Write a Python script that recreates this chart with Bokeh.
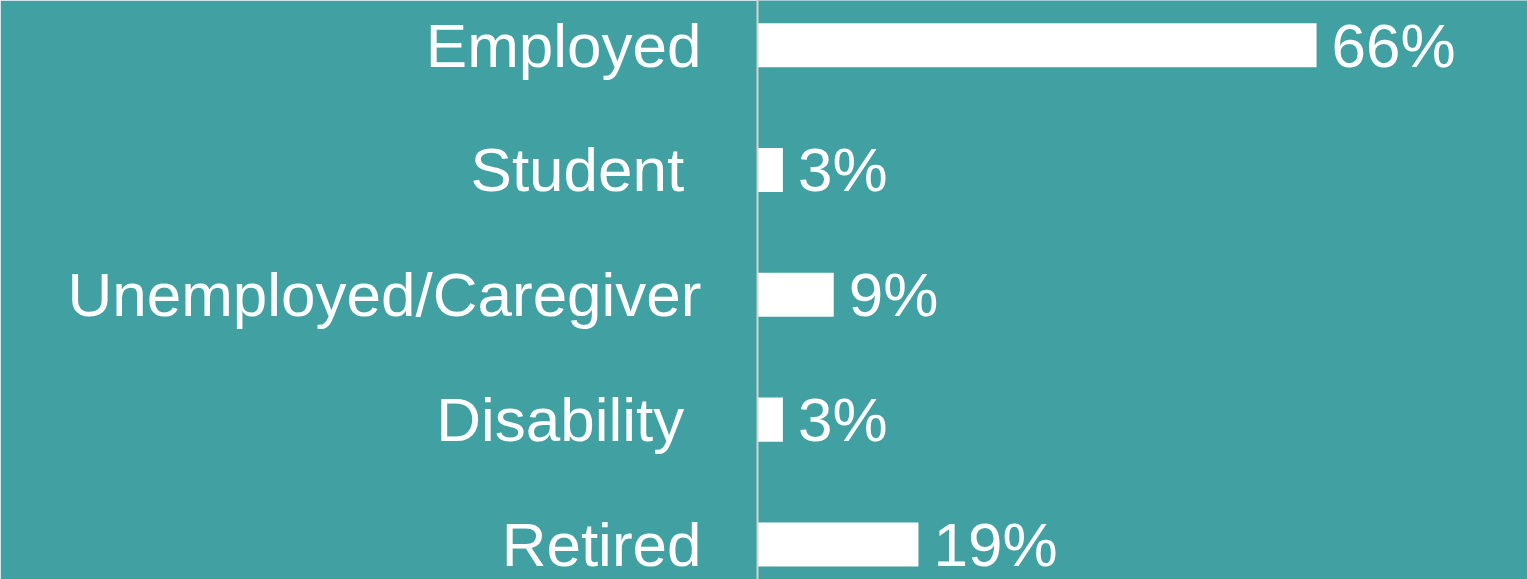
from bokeh.plotting import figure
from bokeh.models import Range1d, FixedTicker, ColumnDataSource
from bokeh.core.properties import value
from bokeh.embed import file_html
from bokeh.resources import INLINE

categories = ["Employed", "Student ", "Unemployed/Caregiver", "Disability ", "Retired"]
values = [66, 3, 9, 3, 19]
value_labels = ["66%", "3%", "9%", "3%", "19%"]

BG = "#41A0A1"
FONT = "Liberation Sans"

pos = list(range(len(categories)))
src = ColumnDataSource(dict(y=pos, v=values, lab=value_labels))

p = figure(width=1527, height=579, output_backend="svg", toolbar_location=None,
           x_range=Range1d(0, 90.9), y_range=Range1d(4.281, -0.358),
           min_border_left=757, min_border_right=0, min_border_top=0, min_border_bottom=0)
p.background_fill_color = BG
p.border_fill_color = BG
p.outline_line_color = None
p.grid.visible = False
p.xaxis.visible = False

p.hbar(y="y", left=0, right="v", height=0.353, source=src, fill_color="white", line_color=None)
p.text(x="v", y="y", text="lab", source=src, x_offset=15, text_align="left", text_baseline="middle",
       text_color="white", text_font=value(FONT), text_font_size="62px")

ya = p.yaxis[0]
ya.ticker = FixedTicker(ticks=pos)
ya.major_label_overrides = {i: c for i, c in enumerate(categories)}
ya.major_label_text_font = FONT
ya.major_label_text_font_size = "62px"
ya.major_label_text_color = "white"
ya.major_label_standoff = 50
ya.major_tick_line_color = None
ya.minor_tick_line_color = None
ya.axis_line_color = "#D4D4D4"
ya.axis_line_width = 2

open("out.html", "w").write(file_html(p, INLINE))
